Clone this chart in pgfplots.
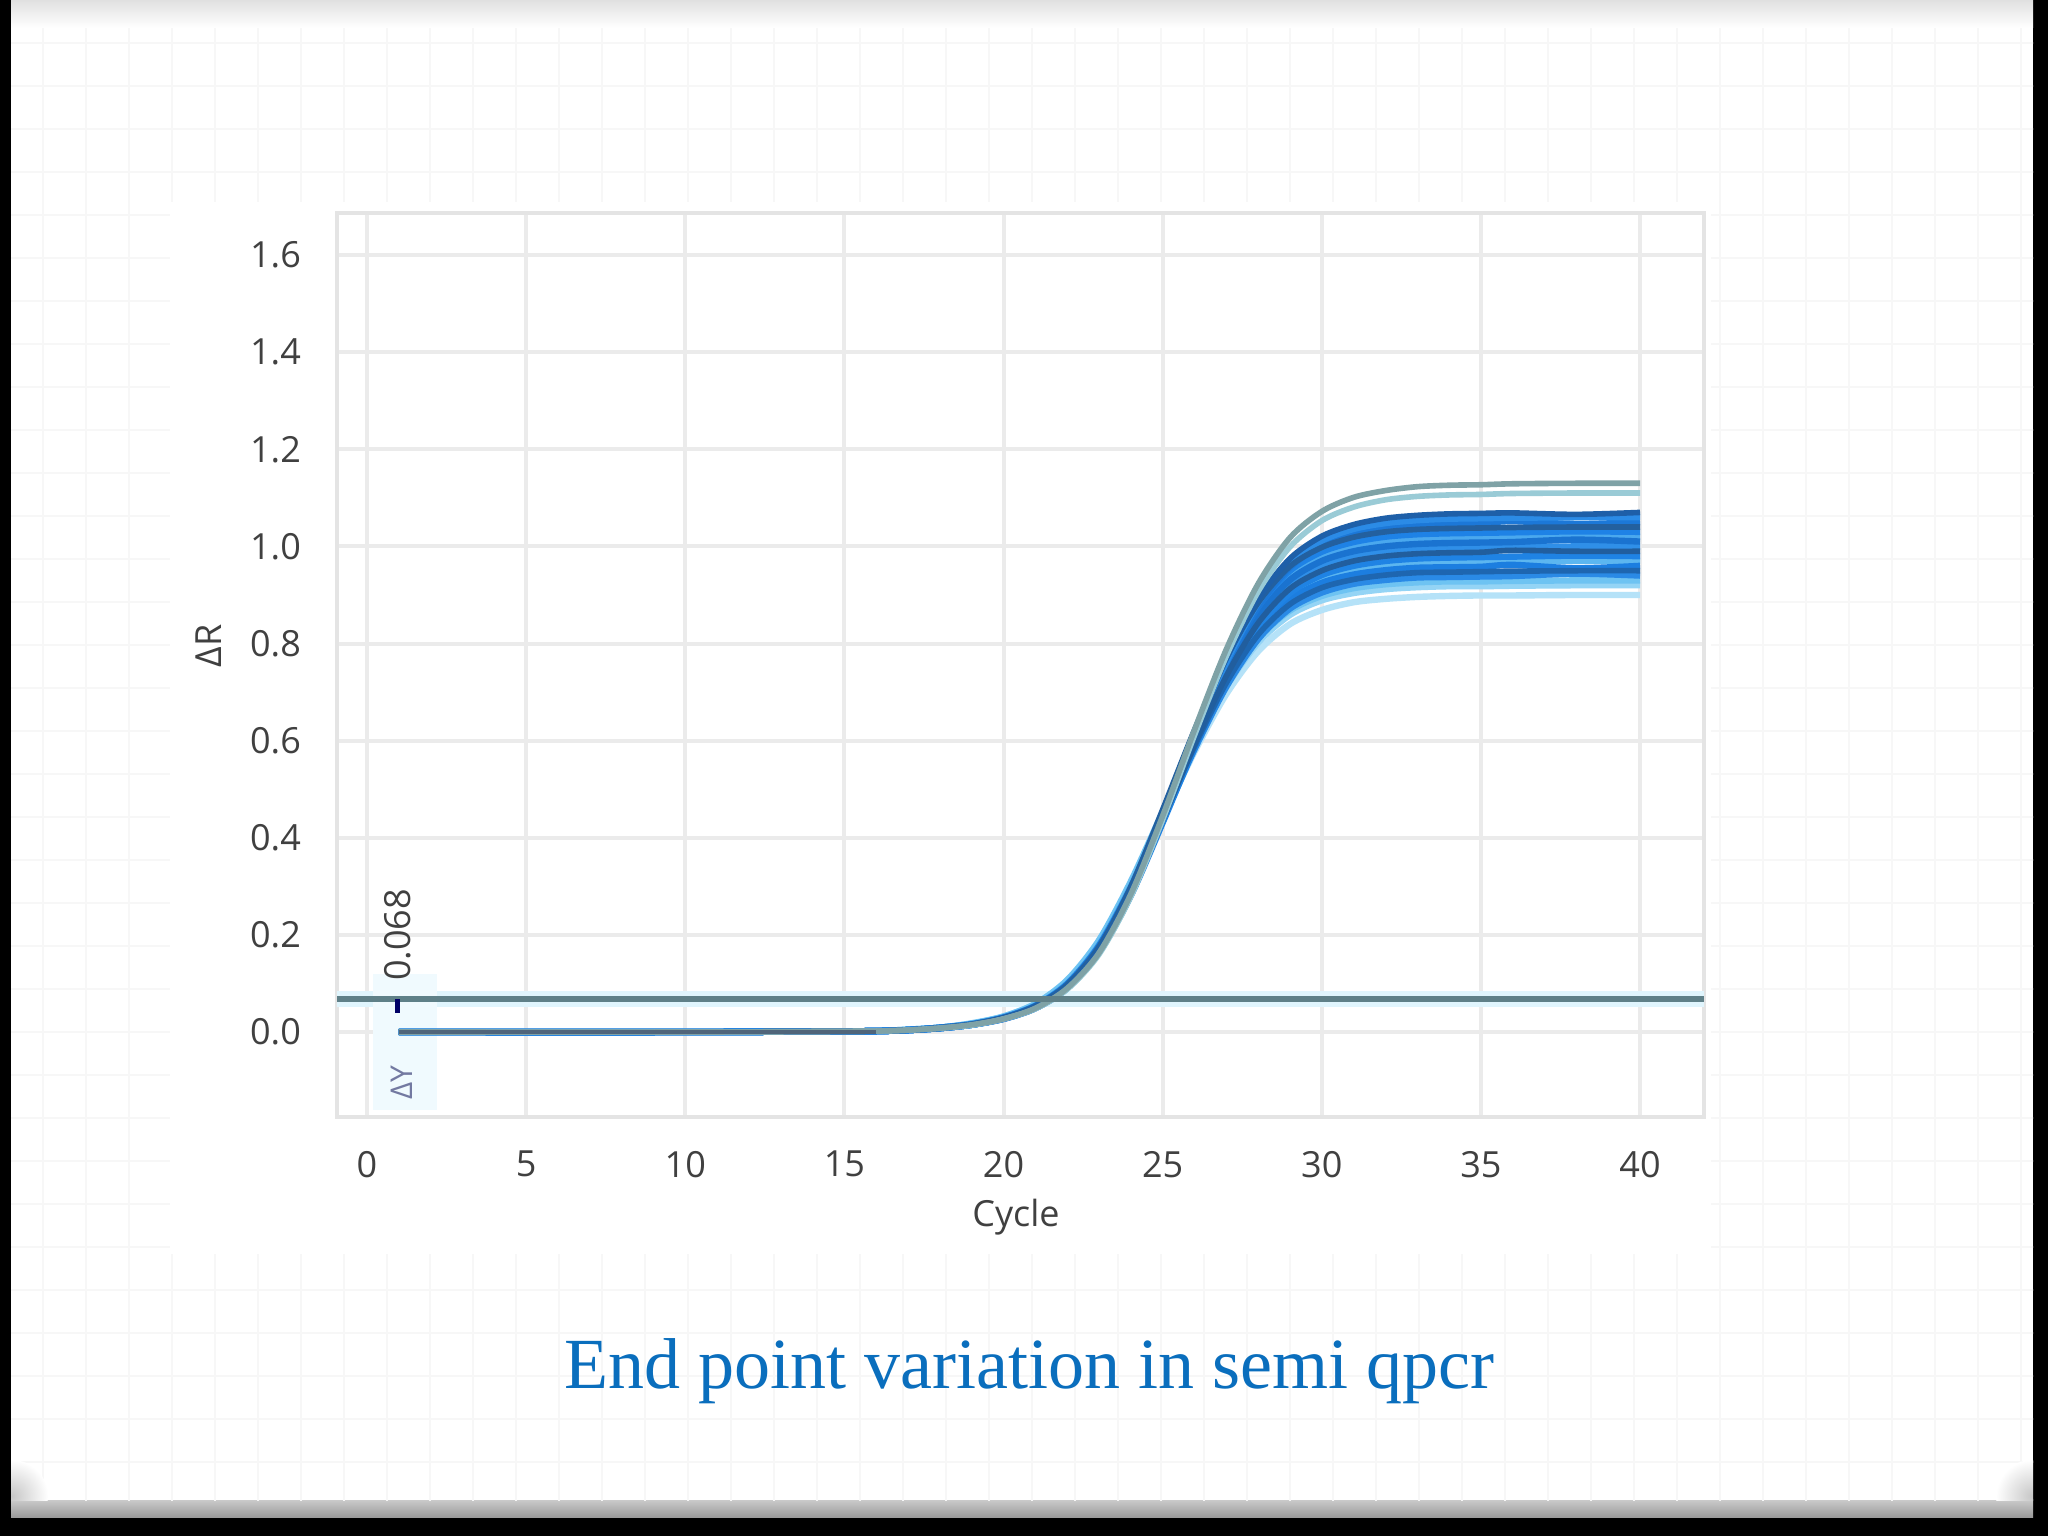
\documentclass[border=0pt]{standalone}
\usepackage{fontspec}
\setmainfont{Open Sans}
\newfontfamily\capfont{Liberation Serif}
\usepackage{pgfplots}
\pgfplotsset{compat=1.18}
\usepackage{pgfplotstable}

\definecolor{gridgray}{HTML}{EBEBEB}
\definecolor{framegray}{HTML}{E4E4E4}
\definecolor{labelgray}{HTML}{404040}
\definecolor{capblue}{HTML}{0A6EBD}
\definecolor{thr}{HTML}{5F8088}
\definecolor{cA}{HTML}{7FA2A6}
\definecolor{cB}{HTML}{9ACBD6}
\definecolor{cC}{HTML}{1E5FA8}
\definecolor{cD}{HTML}{2B8BE6}
\definecolor{cE}{HTML}{1C78D8}
\definecolor{cF}{HTML}{23609F}
\definecolor{cG}{HTML}{1E82E6}
\definecolor{cH}{HTML}{4AA8EE}
\definecolor{cI}{HTML}{1A73D0}
\definecolor{cJ}{HTML}{2F8FE8}
\definecolor{cK}{HTML}{215E9E}
\definecolor{cL}{HTML}{1F83E4}
\definecolor{cM}{HTML}{5CB6F0}
\definecolor{cN}{HTML}{1C7EE0}
\definecolor{cO}{HTML}{1E66B0}
\definecolor{cP}{HTML}{2A8AE6}
\definecolor{cQ}{HTML}{6EC3F2}
\definecolor{cR}{HTML}{94D4F5}
\definecolor{cS}{HTML}{B5E2F8}
\definecolor{basel}{HTML}{50657A}

\pgfplotstableread{
c  y1    y2    y3    y4    y5    y6    y7    y8    y9    y10   y11   y12   y13   y14   y15   y16   y17   y18   y19
1  0     0     0     0     0     0     0     0     0     0     0     0     0     0     0     0     0     0     0
10 0     0     0     0     0     0     0     0     0     0     0     0     0     0     0     0     0     0     0
14 0.001 0.001 0.001 0.001 0.001 0.001 0.001 0.001 0.001 0.001 0.001 0.001 0.001 0.001 0.001 0.001 0.001 0.001 0.001
16 0.002 0.002 0.002 0.002 0.002 0.002 0.002 0.002 0.002 0.002 0.002 0.002 0.002 0.002 0.002 0.002 0.002 0.002 0.002
17 0.004 0.004 0.004 0.004 0.004 0.004 0.004 0.004 0.004 0.004 0.004 0.004 0.004 0.004 0.004 0.004 0.005 0.005 0.005
18 0.008 0.008 0.008 0.008 0.008 0.008 0.008 0.008 0.008 0.008 0.008 0.008 0.009 0.009 0.009 0.009 0.009 0.009 0.009
19 0.015 0.014 0.015 0.015 0.015 0.016 0.015 0.015 0.015 0.015 0.015 0.015 0.016 0.016 0.016 0.016 0.018 0.017 0.017
20 0.027 0.027 0.028 0.028 0.027 0.029 0.029 0.029 0.028 0.028 0.028 0.027 0.030 0.030 0.030 0.029 0.032 0.032 0.031
21 0.049 0.048 0.050 0.050 0.049 0.052 0.052 0.051 0.051 0.050 0.050 0.049 0.055 0.054 0.054 0.053 0.058 0.058 0.056
22 0.090 0.088 0.092 0.091 0.090 0.096 0.095 0.094 0.093 0.092 0.091 0.090 0.100 0.099 0.098 0.097 0.107 0.105 0.103
23 0.163 0.160 0.167 0.165 0.164 0.174 0.172 0.170 0.169 0.167 0.165 0.164 0.180 0.178 0.176 0.174 0.189 0.187 0.183
24 0.284 0.279 0.288 0.285 0.283 0.299 0.296 0.293 0.290 0.287 0.284 0.281 0.301 0.298 0.295 0.291 0.310 0.306 0.300
25 0.445 0.437 0.446 0.442 0.438 0.458 0.453 0.449 0.444 0.440 0.436 0.431 0.450 0.445 0.441 0.436 0.453 0.448 0.439
26 0.622 0.611 0.615 0.609 0.603 0.622 0.616 0.610 0.604 0.598 0.592 0.586 0.601 0.595 0.588 0.582 0.596 0.589 0.577
27 0.788 0.774 0.769 0.762 0.755 0.770 0.762 0.755 0.747 0.740 0.733 0.725 0.734 0.726 0.719 0.711 0.719 0.711 0.696
28 0.923 0.907 0.892 0.884 0.875 0.884 0.876 0.867 0.859 0.850 0.842 0.833 0.835 0.826 0.818 0.809 0.811 0.802 0.784
29 1.018 0.999 0.975 0.966 0.957 0.959 0.950 0.940 0.931 0.922 0.913 0.904 0.900 0.891 0.881 0.872 0.868 0.859 0.840
30 1.072 1.053 1.021 1.012 1.002 0.998 0.989 0.979 0.970 0.960 0.950 0.941 0.934 0.925 0.915 0.905 0.898 0.889 0.869
31 1.101 1.081 1.045 1.036 1.026 1.019 1.009 1.000 0.990 0.980 0.970 0.960 0.952 0.942 0.932 0.923 0.914 0.904 0.885
32 1.115 1.096 1.058 1.048 1.038 1.030 1.020 1.010 1.000 0.990 0.980 0.970 0.961 0.951 0.941 0.931 0.922 0.912 0.892
33 1.123 1.103 1.064 1.054 1.044 1.035 1.025 1.015 1.005 0.995 0.985 0.975 0.965 0.956 0.946 0.936 0.926 0.916 0.896
34 1.126 1.106 1.067 1.057 1.047 1.037 1.027 1.017 1.007 0.997 0.987 0.977 0.967 0.957 0.947 0.937 0.928 0.918 0.898
35 1.127 1.107 1.068 1.058 1.048 1.038 1.028 1.018 1.008 0.998 0.988 0.978 0.968 0.958 0.948 0.938 0.928 0.918 0.899
36 1.129 1.109 1.069 1.059 1.052 1.039 1.029 1.019 1.009 0.999 0.992 0.979 0.969 0.962 0.949 0.939 0.929 0.919 0.899
38 1.130 1.110 1.066 1.060 1.046 1.040 1.031 1.020 1.014 1.000 0.990 0.981 0.970 0.955 0.950 0.944 0.930 0.920 0.900
40 1.130 1.110 1.070 1.060 1.050 1.040 1.030 1.020 1.010 1.000 0.990 0.980 0.970 0.960 0.950 0.940 0.930 0.920 0.900
}\curves

\begin{document}
\begin{tikzpicture}[x=1pt,y=1pt]
\useasboundingbox (0,0) rectangle (512,384);
% slide frame
\fill[black] (0,0) rectangle (512,384);
\shade[top color=gray!40, bottom color=gray!80] (2.75,4.6) rectangle (508.25,9.2);
\fill[white] (2.75,9) rectangle (508.25,384);
\begin{scope}
  \clip (2.75,9) rectangle (508.25,384);
  \foreach \i in {1,...,47} \draw[black!3, line width=0.6pt] (\i*10.75,0) -- (\i*10.75,384);
  \foreach \j in {1,...,35} \draw[black!3, line width=0.6pt] (0,384-\j*10.75) -- (512,384-\j*10.75);
  \shade[top color=black!12, bottom color=white] (0,377) rectangle (512,384);
  \shade[inner color=black!22, outer color=white] (3,10) circle (9);
  \shade[inner color=black!22, outer color=white] (508,10) circle (9);
\end{scope}
% chart image background
\fill[white] (42.5,70.5) rectangle (427.75,333.5);

\begin{axis}[
  at={(84.25pt,104.75pt)}, anchor=south west,
  scale only axis, width=341.75pt, height=226pt,
  xmin=-0.943, xmax=42.01, ymin=-0.175, ymax=1.6866,
  xtick={0,5,...,40}, ytick={0,0.2,...,1.6},
  grid=major, major grid style={draw=gridgray, line width=1pt},
  axis line style={draw=framegray, line width=1.2pt},
  tick style={draw=none},
  /pgf/number format/assume math mode=true,
  ticklabel style={font=\fontsize{9}{10}\selectfont, text=labelgray},
  yticklabel style={xshift=-5.5pt, /pgf/number format/.cd, fixed, fixed zerofill, precision=1},
  xticklabel style={yshift=-5pt},
  clip=false,
]
% threshold halo
\addplot[draw=cyan!12, line width=4pt, forget plot] coordinates {(-0.943,0.068) (42.01,0.068)};
\fill[cyan!6] (axis cs:0.2,-0.16) rectangle (axis cs:2.2,0.12);
\addplot[cS, line width=1.6pt, smooth] table[x=c,y=y19]{\curves};
\addplot[cR, line width=1.6pt, smooth] table[x=c,y=y18]{\curves};
\addplot[cQ, line width=1.6pt, smooth] table[x=c,y=y17]{\curves};
\addplot[cM, line width=1.6pt, smooth] table[x=c,y=y13]{\curves};
\addplot[cH, line width=1.6pt, smooth] table[x=c,y=y8]{\curves};
\addplot[cP, line width=1.6pt, smooth] table[x=c,y=y16]{\curves};
\addplot[cN, line width=1.6pt, smooth] table[x=c,y=y14]{\curves};
\addplot[cL, line width=1.6pt, smooth] table[x=c,y=y12]{\curves};
\addplot[cJ, line width=1.6pt, smooth] table[x=c,y=y10]{\curves};
\addplot[cI, line width=1.6pt, smooth] table[x=c,y=y9]{\curves};
\addplot[cG, line width=1.6pt, smooth] table[x=c,y=y7]{\curves};
\addplot[cE, line width=1.6pt, smooth] table[x=c,y=y5]{\curves};
\addplot[cD, line width=1.6pt, smooth] table[x=c,y=y4]{\curves};
\addplot[cO, line width=1.4pt, smooth] table[x=c,y=y15]{\curves};
\addplot[cK, line width=1.4pt, smooth] table[x=c,y=y11]{\curves};
\addplot[cF, line width=1.4pt, smooth] table[x=c,y=y6]{\curves};
\addplot[cC, line width=1.4pt, smooth] table[x=c,y=y3]{\curves};
\addplot[cB, line width=1.4pt, smooth] table[x=c,y=y2]{\curves};
\addplot[cA, line width=1.4pt, smooth] table[x=c,y=y1]{\curves};
% baseline overlay
\addplot[draw=basel, line width=0.9pt] coordinates {(1,0) (16,0)};
% threshold
\addplot[draw=thr, line width=1.3pt] coordinates {(-0.943,0.068) (42.01,0.068)};
\draw[draw=blue!40!black, line width=1.2pt] (axis cs:0.95,0.068) -- (axis cs:0.95,0.04);
\node[rotate=90, font=\fontsize{9}{10}\selectfont, text=labelgray] at (axis cs:0.97,0.20) {0.068};
\node[rotate=90, font=\fontsize{7.5}{8}\selectfont, text=cyan!30!blue!40!gray] at (axis cs:1.1,-0.105) {ΔY};
\end{axis}

\node[font=\fontsize{9}{10}\selectfont, text=labelgray] at (254,79.75) {Cycle};
\node[rotate=90, font=\fontsize{9}{10}\selectfont, text=labelgray] at (52.25,222.5) {ΔR};
\node[font=\capfont\fontsize{18}{20}\selectfont, text=capblue] at (257.25,41.25) {End point variation in semi qpcr};
\end{tikzpicture}
\end{document}
